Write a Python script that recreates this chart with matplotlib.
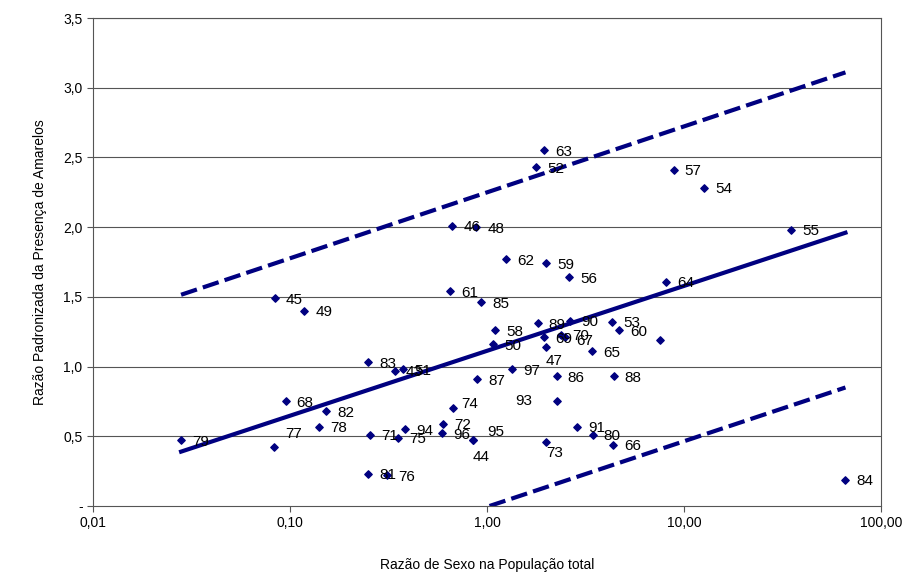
import numpy as np
import matplotlib.pyplot as plt
from matplotlib.ticker import FixedLocator, FixedFormatter

plt.rcParams['font.family'] = ['Liberation Sans', 'DejaVu Sans']

labels = ['63', '52', '57', '54', '55', '46', '48', '62', '59', '56', '64', '45', '49', '61', '85',
          '89', '58', '90', '69', '70', '67', '47', '50', '60', '53', '', '65', '83', '43', '51', '97',
          '86', '88', '87', '74', '93', '94', '72', '96', '95', '44', '73', '91', '80', '66', '71', '75',
          '81', '76', '68', '82', '78', '79', '77', '84']
xs = [1.94, 1.77, 8.85, 12.7, 35.0, 0.665, 0.88, 1.25, 2.0, 2.6, 8.15, 0.0835, 0.118, 0.65, 0.93,
      1.81, 1.10, 2.63, 1.94, 2.37, 2.48, 1.99, 1.07, 4.66, 4.3, 7.53, 3.4, 0.25, 0.34, 0.375, 1.34,
      2.26, 4.4, 0.89, 0.67, 2.26, 0.385, 0.60, 0.59, 0.85, 0.85, 1.99, 2.86, 3.44, 4.35, 0.256, 0.354,
      0.25, 0.31, 0.095, 0.153, 0.141, 0.028, 0.083, 66.0]
ys = [2.55, 2.43, 2.41, 2.28, 1.98, 2.01, 2.00, 1.77, 1.74, 1.64, 1.61, 1.49, 1.40, 1.54, 1.46,
      1.31, 1.26, 1.33, 1.21, 1.23, 1.21, 1.14, 1.16, 1.26, 1.32, 1.19, 1.11, 1.03, 0.97, 0.98, 0.98,
      0.93, 0.93, 0.91, 0.70, 0.75, 0.55, 0.59, 0.52, 0.47, 0.47, 0.46, 0.57, 0.51, 0.44, 0.51, 0.49,
      0.23, 0.22, 0.75, 0.68, 0.57, 0.47, 0.42, 0.19]

# trend line and bounds (endpoints)
trend_x = [0.028, 66.0]
trend_y = [0.39, 1.96]
upper_y = [1.515, 3.11]
lower_x = [1.03, 66.0]
lower_y = [0.0, 0.85]

# a few labels sit above/below their marker in the original
special = {'95': (10, 6), '44': (0, -12), '73': (0, -8), '77': (8, 10), '93': (-30, 0),
           '74': (6, 3), '47': (0, -10), '67': (8, -3)}

fig = plt.figure(figsize=(9.04, 5.74), dpi=100)
ax = fig.add_axes([93/904, 1-506/574, (881-93)/904, (506-18)/574])
ax.set_xscale('log')
ax.set_xlim(0.01, 100)
ax.set_ylim(0, 3.5)

for yv in np.arange(0.5, 3.51, 0.5):
    ax.axhline(yv, color='#555555', lw=0.8, zorder=0)

navy = '#000080'
ax.plot(trend_x, trend_y, color=navy, lw=3)
ax.plot(trend_x, upper_y, color=navy, lw=3, dashes=(4, 1.5))
ax.plot(lower_x, lower_y, color=navy, lw=3, dashes=(4, 1.5))
ax.scatter(xs, ys, marker='D', s=14, color=navy, zorder=3)
for lb, x, y in zip(labels, xs, ys):
    if lb:
        off = special.get(lb, (8, -1))
        ax.annotate(lb, (x, y), xytext=off, textcoords='offset points',
                    fontsize=11, va='center', ha='left')

ax.xaxis.set_major_locator(FixedLocator([0.01, 0.1, 1, 10, 100]))
ax.xaxis.set_major_formatter(FixedFormatter(['0,01', '0,10', '1,00', '10,00', '100,00']))
ax.xaxis.set_minor_locator(FixedLocator([]))
ax.set_yticks(np.arange(0, 3.51, 0.5))
ax.set_yticklabels(['-'] + [f'{v:.1f}'.replace('.', ',') for v in np.arange(0.5, 3.51, 0.5)])
ax.tick_params(labelsize=10, direction='out', length=4, color='#555555')
for s in ax.spines.values():
    s.set_color('#555555')
ax.set_xlabel('Razão de Sexo na População total', fontsize=10, labelpad=20)
ax.set_ylabel('Razão Padronizada da Presença de Amarelos', fontsize=10, labelpad=12)

fig.savefig('out.png')
